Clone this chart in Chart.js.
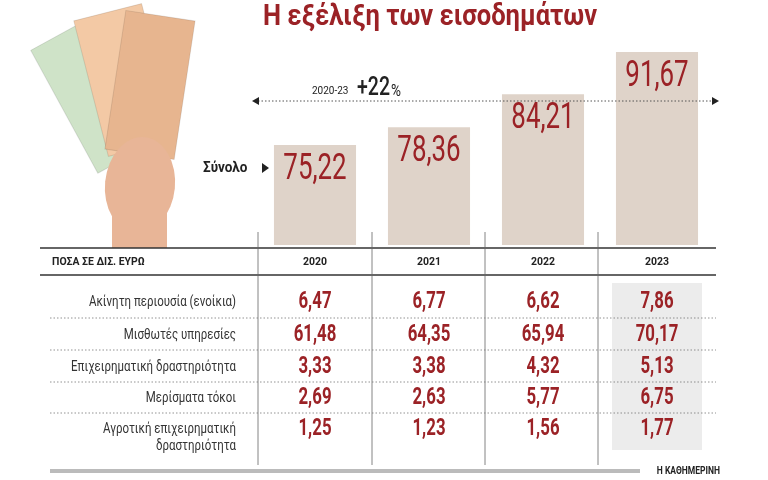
<!DOCTYPE html>
<html><head><meta charset="utf-8">
<script src="https://cdn.jsdelivr.net/npm/chart.js@4"></script>
<style>html,body{margin:0;padding:0;background:#fff}#w{width:768px;height:480px}</style>
</head><body><div id="w"><canvas id="c"></canvas></div>
<script>
const years = ['2020','2021','2022','2023'];
const totals = [75.22, 78.36, 84.21, 91.67];
const rowLabels = [['Ακίνητη περιουσία (ενοίκια)'],['Μισθωτές υπηρεσίες'],['Επιχειρηματική δραστηριότητα'],['Μερίσματα τόκοι'],['Αγροτική επιχειρηματική','δραστηριότητα']];
const rowValues = [
  [6.47, 6.77, 6.62, 7.86],
  [61.48, 64.35, 65.94, 70.17],
  [3.33, 3.38, 4.32, 5.13],
  [2.69, 2.63, 5.77, 6.75],
  [1.25, 1.23, 1.56, 1.77]
];
const fmt = v => v.toFixed(2).replace('.', ',');
const RED = '#9b2226';
function cond(ctx, text, x, y, size, weight, color, align, sx) {
  ctx.save();
  ctx.font = weight + ' ' + size + 'px Roboto, "Liberation Sans", sans-serif';
  ctx.fillStyle = color; ctx.textBaseline = 'middle';
  ctx.translate(x, y); ctx.scale(sx, 1);
  ctx.textAlign = align;
  ctx.fillText(text, 0, 0);
  ctx.restore();
}
const deco = {
  id: 'deco',
  beforeDatasetsDraw(chart) {
    const ctx = chart.ctx;
    const notes = [['#cfe3c8', -0.5, 95, 95], ['#f3c9a5', -0.25, 125, 80], ['#e7b58f', 0.15, 150, 85]];
    notes.forEach(n => {
      ctx.save(); ctx.translate(n[2], n[3]); ctx.rotate(n[1]);
      ctx.fillStyle = n[0]; ctx.fillRect(-35, -70, 70, 140);
      ctx.strokeStyle = 'rgba(0,0,0,0.1)'; ctx.strokeRect(-35, -70, 70, 140);
      ctx.restore();
    });
    ctx.save(); ctx.fillStyle = '#e8b597';
    ctx.beginPath(); ctx.ellipse(140, 185, 35, 48, 0.1, 0, Math.PI*2); ctx.fill();
    ctx.fillRect(112, 200, 55, 48);
    ctx.restore();
    ctx.fillStyle = '#ececec'; ctx.fillRect(612, 283, 90, 167);
  },
  afterDatasetsDraw(chart) {
    const ctx = chart.ctx;
    const meta = chart.getDatasetMeta(0);
    meta.data.forEach((b, i) => {
      cond(ctx, fmt(totals[i]), b.x, b.y + 25, 36, '400', RED, 'center', 0.72);
    });
    cond(ctx, 'Η εξέλιξη των εισοδημάτων', 430, 18, 29, 'bold', RED, 'center', 0.88);
    cond(ctx, 'Σύνολο', 203, 168, 15, 'bold', '#222', 'left', 0.9);
    ctx.fillStyle = '#222'; ctx.beginPath(); ctx.moveTo(262, 163); ctx.lineTo(269, 168); ctx.lineTo(262, 173); ctx.fill();
    ctx.save(); ctx.strokeStyle = '#555'; ctx.setLineDash([1.5, 2]); ctx.lineWidth = 1;
    ctx.beginPath(); ctx.moveTo(258, 101); ctx.lineTo(712, 101); ctx.stroke(); ctx.restore();
    ctx.fillStyle = '#222';
    ctx.beginPath(); ctx.moveTo(252, 101); ctx.lineTo(259, 97); ctx.lineTo(259, 105); ctx.fill();
    ctx.beginPath(); ctx.moveTo(719, 101); ctx.lineTo(712, 97); ctx.lineTo(712, 105); ctx.fill();
    cond(ctx, '2020-23', 312, 91, 10, '400', '#222', 'left', 1);
    cond(ctx, '+22', 357, 89, 25, '500', '#222', 'left', 0.78);
    cond(ctx, '%', 391, 92, 16, '400', '#222', 'left', 0.85);
    ctx.strokeStyle = '#333'; ctx.lineWidth = 1.6;
    [248, 275].forEach(y => { ctx.beginPath(); ctx.moveTo(40, y); ctx.lineTo(716, y); ctx.stroke(); });
    ctx.lineWidth = 0.8; ctx.strokeStyle = '#666';
    [258, 372, 485, 598].forEach(x => { ctx.beginPath(); ctx.moveTo(x, 232); ctx.lineTo(x, 465); ctx.stroke(); });
    ctx.save(); ctx.setLineDash([1.5, 2]); ctx.strokeStyle = '#777';
    [318, 350, 382, 413].forEach(y => { ctx.beginPath(); ctx.moveTo(50, y); ctx.lineTo(716, y); ctx.stroke(); });
    ctx.restore();
    cond(ctx, 'ΠΟΣΑ ΣΕ ΔΙΣ. ΕΥΡΩ', 52, 262, 11, 'bold', '#222', 'left', 0.95);
    const cx = [315, 429, 543, 657];
    years.forEach((y, i) => cond(ctx, y, cx[i], 262, 11, 'bold', '#222', 'center', 0.95));
    const ry = [302, 335, 367, 398, 437];
    rowLabels.forEach((lab, r) => {
      if (lab.length === 1) cond(ctx, lab[0], 236, ry[r], 14, '400', '#333', 'right', 0.82);
      else { cond(ctx, lab[0], 236, ry[r] - 8, 14, '400', '#333', 'right', 0.82); cond(ctx, lab[1], 236, ry[r] + 9, 14, '400', '#333', 'right', 0.82); }
      rowValues[r].forEach((v, i) => cond(ctx, fmt(v), cx[i], r === 4 ? ry[r] - 8 : ry[r], 24, 'bold', RED, 'center', 0.7));
    });
    ctx.fillStyle = '#bbb'; ctx.fillRect(50, 469, 590, 4);
    cond(ctx, 'Η ΚΑΘΗΜΕΡΙΝΗ', 720, 471, 10, 'bold', '#222', 'right', 0.85);
  }
};
new Chart(document.getElementById('c'), {
  type: 'bar',
  data: { labels: years, datasets: [{ data: totals, backgroundColor: '#dfd3c9', borderWidth: 0, barPercentage: 0.72, categoryPercentage: 1 }] },
  options: {
    responsive: true, maintainAspectRatio: false, animation: false,
    layout: { padding: { left: 258, right: 54, top: 40, bottom: 235 } },
    plugins: { legend: { display: false }, tooltip: { enabled: false } },
    scales: { x: { display: false }, y: { display: false, min: 57.5, max: 93.8 } }
  },
  plugins: [deco]
});
</script></body></html>
